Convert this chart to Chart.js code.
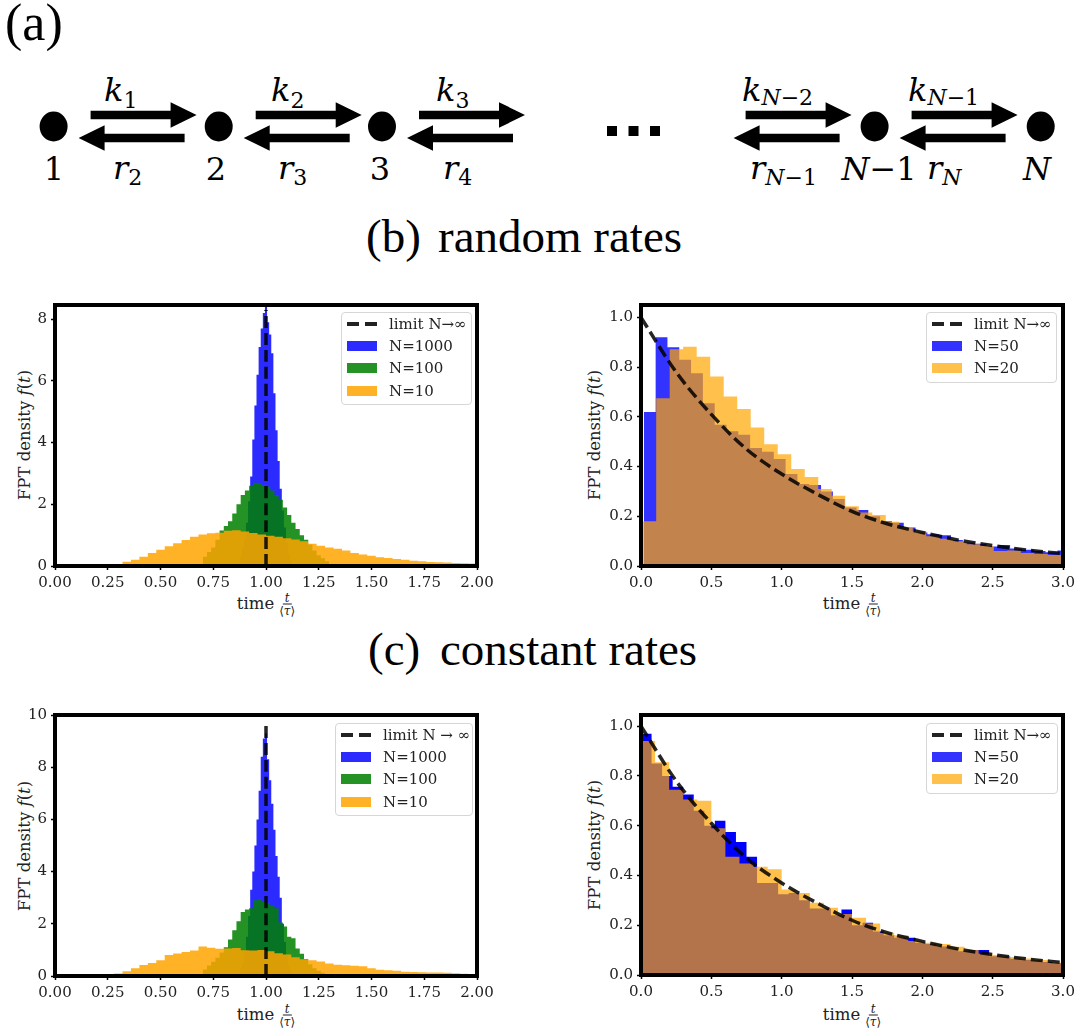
<!DOCTYPE html>
<html lang="en">
<head>
<meta charset="UTF-8">
<title>FPT density: random vs constant rates</title>
<script src="https://cdn.jsdelivr.net/npm/chart.js"></script>
<style>
  body { margin: 0; background: #fff; overflow: hidden; }
  #page { position: relative; width: 1079px; height: 1034px; overflow: hidden; font-family: 'DejaVu Serif', serif; color: #222; }
  #scheme { position: absolute; left: 0; top: 0; }
  #scheme .math { font-family: 'DejaVu Serif', serif; font-size: 32px; fill: #000; }
  #scheme .head { font-family: 'Liberation Serif', 'Times New Roman', serif; fill: #000; }
  .chart-box { position: absolute; }
  .ytitle { position: absolute; font-size: 16.5px; white-space: nowrap; transform: translate(-50%, -50%) rotate(-90deg); }
  .xtitle { position: absolute; font-size: 16.5px; line-height: 1; display: flex; align-items: center; white-space: nowrap; transform: translate(-50%, -50%); }
  .frac { display: inline-flex; flex-direction: column; align-items: center; font-size: 12px; line-height: 12px; margin-left: 5px; }
  .frac .num { font-style: italic; border-bottom: 1px solid #222; padding: 0 2px; }
  .legend { position: absolute; box-sizing: border-box; border: 1px solid #d6d6d6; border-radius: 4px; background: rgba(255,255,255,0.8); padding: 0 0 0 5px; font-size: 15px; }
  .legend .row { display: flex; align-items: center; height: 22.2px; white-space: nowrap; }
  .legend .swatch { width: 30px; height: 10px; margin-right: 12px; flex: none; }
  .legend .dash { height: 4px; background: linear-gradient(to right, #222 0 12px, transparent 12px 18px, #222 18px 30px); }
</style>
</head>
<body>
<div id="page">
  <svg id="scheme" width="1079" height="1034">
    <text class="head" x="5" y="40" font-size="52">(a)</text>
    <text class="head" x="366" y="252" font-size="47">(b)</text>
    <text class="head" x="438" y="252" font-size="47">random rates</text>
    <text class="head" x="368" y="665" font-size="47">(c)</text>
    <text class="head" x="440" y="665" font-size="47">constant rates</text>

    <text class="math" x="104" y="101"><tspan font-style="italic">k</tspan><tspan font-size="22" dy="7">1</tspan></text>
    <text class="math" x="271" y="101"><tspan font-style="italic">k</tspan><tspan font-size="22" dy="7">2</tspan></text>
    <text class="math" x="436" y="101"><tspan font-style="italic">k</tspan><tspan font-size="22" dy="7">3</tspan></text>
    <text class="math" x="742" y="101"><tspan font-style="italic">k</tspan><tspan font-size="22" dy="4"><tspan font-style="italic">N</tspan>−2</tspan></text>
    <text class="math" x="908" y="101"><tspan font-style="italic">k</tspan><tspan font-size="22" dy="4"><tspan font-style="italic">N</tspan>−1</tspan></text>

    <text class="math" x="113" y="179"><tspan font-style="italic">r</tspan><tspan font-size="22" dy="6">2</tspan></text>
    <text class="math" x="278" y="179"><tspan font-style="italic">r</tspan><tspan font-size="22" dy="6">3</tspan></text>
    <text class="math" x="443" y="179"><tspan font-style="italic">r</tspan><tspan font-size="22" dy="6">4</tspan></text>
    <text class="math" x="750" y="179"><tspan font-style="italic">r</tspan><tspan font-size="22" dy="6"><tspan font-style="italic">N</tspan>−1</tspan></text>
    <text class="math" x="927" y="179"><tspan font-style="italic">r</tspan><tspan font-size="22" dy="6" font-style="italic">N</tspan></text>

    <text class="math" x="54" y="180" font-size="31" text-anchor="middle">1</text>
    <text class="math" x="216" y="180" font-size="31" text-anchor="middle">2</text>
    <text class="math" x="380" y="180" font-size="31" text-anchor="middle">3</text>
    <text class="math" x="879" y="180" font-size="31" text-anchor="middle"><tspan font-style="italic">N</tspan>−1</text>
    <text class="math" x="1037" y="180" font-size="31" text-anchor="middle" font-style="italic">N</text>
  </svg>

  <!-- axis titles -->
  <div class="ytitle" style="left:24px; top:435px;">FPT density <i>f</i>(<i>t</i>)</div>
  <div class="ytitle" style="left:594px; top:435px;">FPT density <i>f</i>(<i>t</i>)</div>
  <div class="ytitle" style="left:24px; top:846px;">FPT density <i>f</i>(<i>t</i>)</div>
  <div class="ytitle" style="left:594px; top:845px;">FPT density <i>f</i>(<i>t</i>)</div>
  <div class="xtitle" style="left:266px; top:604px;">time<span class="frac"><span class="num">t</span><span>⟨<i>τ</i>⟩</span></span></div>
  <div class="xtitle" style="left:852px; top:604px;">time<span class="frac"><span class="num">t</span><span>⟨<i>τ</i>⟩</span></span></div>
  <div class="xtitle" style="left:266px; top:1015px;">time<span class="frac"><span class="num">t</span><span>⟨<i>τ</i>⟩</span></span></div>
  <div class="xtitle" style="left:852px; top:1015px;">time<span class="frac"><span class="num">t</span><span>⟨<i>τ</i>⟩</span></span></div>
</div>

<script>
// ---------- data: (b) random rates ----------
// histograms: first bin edge, bin width, density per bin
const randN1000Start = 0.875, randN1000Width = 0.01;
const randN1000 = [0.3, 0.55, 0.9, 1.4, 2.1, 2.9, 4.1, 5.2, 6.2, 7.1, 7.7, 8.2, 8.4,
                   7.9, 7.5, 6.9, 5.6, 4.4, 3.4, 2.5, 1.8, 1.25, 0.75, 0.4, 0.2];
const randN100Start = 0.70, randN100Width = 0.02;
const randN100 = [0.3, 0.45, 0.6, 0.85, 1.15, 1.3, 1.45, 1.7, 2.0, 2.3, 2.45, 2.6, 2.7, 2.68,
                  2.62, 2.58, 2.45, 2.3, 2.15, 1.9, 1.65, 1.4, 1.2, 1.0, 0.85, 0.7, 0.5, 0.35, 0.25, 0.15];
const randN10Start = 0.28, randN10Width = 0.04;
const randN10 = [0.05, 0.14, 0.2, 0.3, 0.42, 0.53, 0.64, 0.74, 0.84, 0.95, 1.02, 1.06, 1.08, 1.14,
                 1.16, 1.12, 1.07, 1.02, 0.98, 0.95, 0.9, 0.86, 0.8, 0.72, 0.66, 0.6, 0.56, 0.5,
                 0.42, 0.37, 0.33, 0.28, 0.26, 0.23, 0.2, 0.17, 0.15, 0.13, 0.12, 0.11, 0.1, 0.09, 0.08];
const randN50Start = 0.02, randN50Width = 0.084;
const randN50 = [0.62, 0.92, 0.88, 0.83, 0.775, 0.655, 0.568, 0.542, 0.528, 0.475, 0.46, 0.43,
                 0.37, 0.33, 0.326, 0.30, 0.27, 0.235, 0.225, 0.2, 0.18, 0.174, 0.155, 0.135,
                 0.128, 0.124, 0.105, 0.095, 0.09, 0.078, 0.084, 0.07, 0.065, 0.06, 0.055, 0.062];
const randN20Start = 0.012, randN20Width = 0.096;
const randN20 = [0.18, 0.675, 0.872, 0.882, 0.842, 0.762, 0.682, 0.632, 0.557, 0.49, 0.45, 0.39,
                 0.358, 0.31, 0.283, 0.24, 0.215, 0.205, 0.178, 0.155, 0.14, 0.12, 0.11, 0.10,
                 0.088, 0.08, 0.06, 0.062, 0.052, 0.048, 0.044, 0.04];

// ---------- data: (c) constant rates ----------
const constN1000Start = 0.875, constN1000Width = 0.01;
const constN1000 = [0.3, 0.5, 0.9, 1.5, 2.3, 3.3, 4.0, 5.0, 6.0, 7.1, 8.4, 9.1, 9.3,
                    8.3, 7.5, 6.6, 5.6, 4.6, 3.8, 3.0, 2.0, 1.3, 0.8, 0.4, 0.2];
const constN100Start = 0.70, constN100Width = 0.02;
const constN100 = [0.25, 0.4, 0.55, 0.7, 0.9, 1.1, 1.4, 1.75, 2.1, 2.45, 2.55, 2.6, 2.9, 2.93,
                   2.85, 2.8, 2.7, 2.6, 2.05, 1.9, 1.5, 1.45, 1.05, 0.85, 0.65, 0.45, 0.3, 0.2, 0.12, 0.08];
const constN10Start = 0.28, constN10Width = 0.04;
const constN10 = [0.1, 0.18, 0.3, 0.42, 0.5, 0.6, 0.8, 0.86, 0.92, 0.98, 1.13, 1.08, 1.04, 1.05,
                  1.07, 0.99, 0.98, 1.0, 0.95, 0.87, 0.82, 0.72, 0.64, 0.6, 0.56, 0.48, 0.43, 0.41,
                  0.39, 0.37, 0.3, 0.24, 0.22, 0.2, 0.16, 0.15, 0.14, 0.13, 0.13, 0.12, 0.11, 0.09];
const constN50Start = 0.0, constN50Width = 0.075;
const constN50 = [0.97, 0.85, 0.80, 0.757, 0.725, 0.66, 0.6, 0.62, 0.575, 0.535, 0.475, 0.37,
                  0.37, 0.325, 0.33, 0.30, 0.267, 0.267, 0.24, 0.263, 0.2, 0.21, 0.175, 0.16,
                  0.15, 0.15, 0.13, 0.125, 0.115, 0.105, 0.095, 0.1, 0.1, 0.075, 0.074, 0.065,
                  0.06, 0.058, 0.052, 0.047];
const constN20Start = 0.0, constN20Width = 0.1;
const constN20 = [0.94, 0.855, 0.745, 0.705, 0.70, 0.59, 0.475, 0.448, 0.435, 0.425, 0.344, 0.33,
                  0.29, 0.27, 0.245, 0.23, 0.207, 0.17, 0.16, 0.137, 0.13, 0.125, 0.114, 0.1,
                  0.085, 0.08, 0.072, 0.066, 0.06, 0.05];

// ---------- limit N -> infinity ----------
const limitDeltaT = [1, 1];
const limitDeltaRandom = [0, 8.3];
const limitDeltaConst = [0, 9.7];
const limitT = [0, 0.25, 0.5, 0.75, 1, 1.25, 1.5, 1.75, 2, 2.25, 2.5, 2.75, 3];
const limitF = [1.0, 0.78, 0.61, 0.47, 0.37, 0.29, 0.22, 0.17, 0.135, 0.105, 0.082, 0.064, 0.05];

// ---------- ticks ----------
const xTicksNarrow = [0, 0.25, 0.5, 0.75, 1, 1.25, 1.5, 1.75, 2];
const xTicksWide = [0, 0.5, 1, 1.5, 2, 2.5, 3];
const yTicksRandomPeak = [0, 2, 4, 6, 8];
const yTicksConstPeak = [0, 2, 4, 6, 8, 10];
const yTicksDecay = [0, 0.2, 0.4, 0.6, 0.8, 1.0];

// ---------- colours ----------
const dashColor = 'rgba(0, 0, 0, 0.85)';
const blueFill = 'rgba(0, 0, 255, 0.83)';
const blueSolid = 'rgba(0, 0, 255, 1)';
const blueLight = 'rgba(0, 0, 255, 0.8)';
const greenFill = 'rgba(0, 128, 0, 0.86)';
const orangeFill = 'rgba(255, 165, 0, 0.85)';
const orangeLight = 'rgba(255, 165, 0, 0.7)';

// ---------- schematic (a) ----------
const svgNS = 'http://www.w3.org/2000/svg';
const scheme = document.getElementById('scheme');
const nodeX = [53.6, 218.7, 382, 874.6, 1040.7];
const pairX = [53.6, 218.7, 382, 708.6, 874.6];

function addShape(tag, attrs) {
    const el = document.createElementNS(svgNS, tag);
    for (const k in attrs) el.setAttribute(k, attrs[k]);
    scheme.appendChild(el);
}
function arrow(tail, tip, yc) {
    const dir = Math.sign(tip - tail);
    const hb = tip - dir * 26;
    const pts = [[tail, yc - 4.3], [hb, yc - 4.3], [hb, yc - 12.8], [tip, yc],
                 [hb, yc + 12.8], [hb, yc + 4.3], [tail, yc + 4.3]];
    addShape('polygon', { points: pts.map(p => p.join(',')).join(' '), fill: '#000' });
}
nodeX.forEach(x => addShape('ellipse', { cx: x, cy: 126.5, rx: 14, ry: 15, fill: '#000' }));
pairX.forEach(x => {
    arrow(x + 37, x + 143, 115);
    arrow(x + 131, x + 25, 138);
});
[612, 633.5, 655].forEach(x => addShape('rect', { x: x - 5, y: 126, width: 10, height: 10, fill: '#000' }));

// ---------- charts ----------
Chart.defaults.font.family = "'DejaVu Serif', serif";
Chart.defaults.color = '#222';

function histPoints(start, width, heights) {
    const pts = heights.map((h, i) => ({ x: start + i * width, y: h }));
    pts.push({ x: start + heights.length * width, y: 0 });
    return pts;
}
function linePoints(xs, ys) {
    return xs.map((x, i) => ({ x: x, y: ys[i] }));
}
function histSet(label, pts, color, order) {
    return { label: label, data: pts, stepped: 'before', fill: 'origin', backgroundColor: color,
             borderWidth: 0, borderColor: 'transparent', pointRadius: 0, order: order };
}
function limitSet(pts) {
    return { label: 'limit', data: pts, borderColor: dashColor, borderWidth: 3.5, borderDash: [12, 5],
             fill: false, pointRadius: 0, cubicInterpolationMode: 'monotone', order: 0 };
}

const framePlugin = {
    id: 'frame',
    afterDatasetsDraw(chart) {
        const { ctx, chartArea: a } = chart;
        ctx.save();
        ctx.lineWidth = 4;
        ctx.strokeStyle = '#000';
        ctx.strokeRect(a.left, a.top, a.right - a.left, a.bottom - a.top);
        ctx.restore();
    }
};

function makePanel(p) {
    const [L, T, R, B] = p.rect;
    const box = document.createElement('div');
    box.className = 'chart-box';
    box.style.left = (L - 50) + 'px';
    box.style.top = (T - 12) + 'px';
    box.style.width = (R - L + 50 + p.padR) + 'px';
    box.style.height = (B - T + 12 + 32) + 'px';
    const canvas = document.createElement('canvas');
    box.appendChild(canvas);
    document.getElementById('page').appendChild(box);

    new Chart(canvas, {
        type: 'line',
        data: { datasets: p.datasets },
        options: {
            responsive: true,
            maintainAspectRatio: false,
            animation: false,
            events: [],
            layout: { padding: { left: 0, top: 12, right: p.padR, bottom: 0 } },
            plugins: { legend: { display: false }, tooltip: { enabled: false } },
            scales: {
                x: {
                    type: 'linear', min: p.xTicks[0], max: p.xTicks[p.xTicks.length - 1],
                    afterBuildTicks: s => { s.ticks = p.xTicks.map(v => ({ value: v })); },
                    afterFit: s => { s.height = 32; s.paddingLeft = 0; s.paddingRight = 0; },
                    ticks: { autoSkip: false, maxRotation: 0, padding: 4, font: { size: 15 }, color: '#222',
                             callback: v => v.toFixed(p.xDigits) },
                    grid: { drawOnChartArea: false, tickLength: 4, tickWidth: 1.5, tickColor: '#000' },
                    border: { display: false }
                },
                y: {
                    type: 'linear', min: 0, max: p.yMax,
                    afterBuildTicks: s => { s.ticks = p.yTicks.map(v => ({ value: v })); },
                    afterFit: s => { s.width = 50; s.paddingTop = 0; s.paddingBottom = 0; },
                    ticks: { padding: 4, font: { size: 15 }, color: '#222',
                             callback: v => v.toFixed(p.yDigits) },
                    grid: { drawOnChartArea: false, tickLength: 4, tickWidth: 1.5, tickColor: '#000' },
                    border: { display: false }
                }
            }
        },
        plugins: [framePlugin]
    });
}

function makeLegend(left, top, width, height, rows) {
    const lg = document.createElement('div');
    lg.className = 'legend';
    lg.style.left = left + 'px';
    lg.style.top = top + 'px';
    lg.style.width = width + 'px';
    lg.style.height = height + 'px';
    rows.forEach(r => {
        const row = document.createElement('div');
        row.className = 'row';
        const sw = document.createElement('span');
        sw.className = r.color ? 'swatch' : 'swatch dash';
        if (r.color) sw.style.background = r.color;
        const txt = document.createElement('span');
        txt.textContent = r.label;
        row.appendChild(sw);
        row.appendChild(txt);
        lg.appendChild(row);
    });
    document.getElementById('page').appendChild(lg);
}

// (b) left: narrow peaks
makePanel({
    rect: [55, 305, 477, 566], padR: 24, yMax: 8.46,
    xTicks: xTicksNarrow, xDigits: 2, yTicks: yTicksRandomPeak, yDigits: 0,
    datasets: [
        limitSet(linePoints(limitDeltaT, limitDeltaRandom)),
        histSet('N=1000', histPoints(randN1000Start, randN1000Width, randN1000), blueFill, 3),
        histSet('N=100', histPoints(randN100Start, randN100Width, randN100), greenFill, 2),
        histSet('N=10', histPoints(randN10Start, randN10Width, randN10), orangeFill, 1)
    ]
});
// (b) right: decay
makePanel({
    rect: [641, 305, 1063, 566], padR: 16, yMax: 1.05,
    xTicks: xTicksWide, xDigits: 1, yTicks: yTicksDecay, yDigits: 1,
    datasets: [
        limitSet(linePoints(limitT, limitF)),
        histSet('N=50', histPoints(randN50Start, randN50Width, randN50), blueLight, 2),
        histSet('N=20', histPoints(randN20Start, randN20Width, randN20), orangeLight, 1)
    ]
});
// (c) left
makePanel({
    rect: [55, 715, 477, 976], padR: 24, yMax: 10,
    xTicks: xTicksNarrow, xDigits: 2, yTicks: yTicksConstPeak, yDigits: 0,
    datasets: [
        limitSet(linePoints(limitDeltaT, limitDeltaConst)),
        histSet('N=1000', histPoints(constN1000Start, constN1000Width, constN1000), blueFill, 3),
        histSet('N=100', histPoints(constN100Start, constN100Width, constN100), greenFill, 2),
        histSet('N=10', histPoints(constN10Start, constN10Width, constN10), orangeFill, 1)
    ]
});
// (c) right
makePanel({
    rect: [641, 715, 1063, 975], padR: 16, yMax: 1.045,
    xTicks: xTicksWide, xDigits: 1, yTicks: yTicksDecay, yDigits: 1,
    datasets: [
        limitSet(linePoints(limitT, limitF)),
        histSet('N=50', histPoints(constN50Start, constN50Width, constN50), blueSolid, 2),
        histSet('N=20', histPoints(constN20Start, constN20Width, constN20), orangeLight, 1)
    ]
});

makeLegend(341, 312, 131, 93, [
    { label: 'limit N→∞' }, { label: 'N=1000', color: blueFill },
    { label: 'N=100', color: greenFill }, { label: 'N=10', color: orangeFill }
]);
makeLegend(926, 312, 131, 71, [
    { label: 'limit N→∞' }, { label: 'N=50', color: blueLight }, { label: 'N=20', color: orangeLight }
]);
makeLegend(335, 723, 138, 93, [
    { label: 'limit N → ∞' }, { label: 'N=1000', color: blueFill },
    { label: 'N=100', color: greenFill }, { label: 'N=10', color: orangeFill }
]);
makeLegend(926, 723, 132, 71, [
    { label: 'limit N→∞' }, { label: 'N=50', color: blueLight }, { label: 'N=20', color: orangeLight }
]);
</script>
</body>
</html>
